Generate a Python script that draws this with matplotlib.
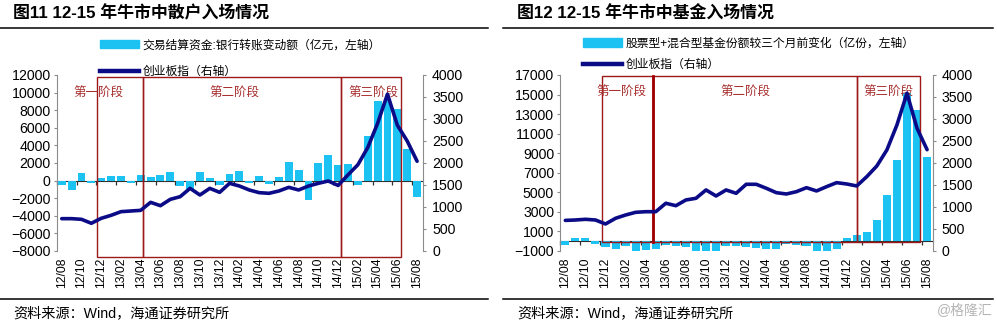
import matplotlib
matplotlib.use("Agg")
import matplotlib.pyplot as plt
from matplotlib.lines import Line2D
from matplotlib.patches import Patch, Rectangle
import numpy as np

plt.rcParams["font.family"] = ["Liberation Sans", "Noto Sans CJK SC"]

# month categories, 2012/08 .. 2015/08
months = [
    "12/08", "12/09", "12/10", "12/11", "12/12",
    "13/01", "13/02", "13/03", "13/04", "13/05", "13/06", "13/07",
    "13/08", "13/09", "13/10", "13/11", "13/12",
    "14/01", "14/02", "14/03", "14/04", "14/05", "14/06", "14/07",
    "14/08", "14/09", "14/10", "14/11", "14/12",
    "15/01", "15/02", "15/03", "15/04", "15/05", "15/06", "15/07", "15/08",
]

# 图11: 交易结算资金 银行转账变动额 (亿元) and 创业板指
retail_flow = [
    -500, -1100, 900, -300, 300, 500, 570, -300, 650, 400, 650, 950,
    -570, -950, 950, 350, -530, 750, 1100, -250, 500, -350, 400, 2150,
    1250, -2250, 2000, 2900, 1770, 1920, -530, 5070, 9100, 9200, 8150,
    3570, -1870,
]
retail_cyb = [
    735, 735, 720, 630, 743, 811, 894, 909, 924, 1106, 1030, 1174,
    1235, 1424, 1273, 1424, 1333, 1538, 1477, 1387, 1326, 1311, 1364, 1447,
    1387, 1477, 1538, 1591, 1490, 1730, 1960, 2350, 2900, 3565, 2860,
    2500, 2040,
]

# 图12: 股票型+混合型基金份额较三个月前变化 (亿份) and 创业板指
fund_change = [
    -400, 300, 250, -300, -580, -780, -510, -1020, -920, -780, -440, -510,
    -615, -1130, -1130, -1130, -510, -510, -615, -680, -850, -850, -300, -440,
    -510, -1200, -1130, -850, 270, 610, 920, 2120, 4710, 8300, 15200,
    13400, 8600,
]
fund_cyb = [
    690, 699, 715, 699, 608, 738, 813, 874, 888, 888, 1080, 1025,
    1155, 1193, 1383, 1246, 1383, 1307, 1512, 1512, 1421, 1321, 1291, 1344,
    1435, 1360, 1458, 1549, 1519, 1474, 1686, 1929, 2294, 2863, 3585,
    2788, 2300,
]

stage_names = ["第一阶段", "第二阶段", "第三阶段"]

BAR_C = "#1CC2F2"
LINE_C = "#0B0B88"
RED = "#9E1A1A"
GRAY = "#8C8C8C"

W, H = 997, 324
fig = plt.figure(figsize=(W / 100, H / 100), dpi=100)
fig.patch.set_facecolor("white")


def fx(px):
    return px / W


def fy(py):
    return 1 - py / H


def panel(rect, bars, cyb, ylim, ystep, xmax, edges, box_y, text_x, text_y,
          bar_label, leg_xy, leg_space, thick_edge=None):
    x = np.arange(len(months))
    ax = fig.add_axes(rect)
    ax.bar(x, bars, width=0.8, color=BAR_C, zorder=2)
    ax.set_xlim(-0.5, xmax)
    ax.set_ylim(*ylim)
    ax.set_yticks(np.arange(ylim[0], ylim[1] + 1, ystep))
    ax.set_xticks(x[::2])
    ax.set_xticklabels(months[::2], rotation=90, fontsize=8.7)
    ax.tick_params(axis="x", length=0, pad=5)
    ax.tick_params(axis="y", direction="out", length=2.5, width=0.8,
                   color=GRAY, labelsize=10.2, pad=2)
    for s in ("top", "bottom", "right"):
        ax.spines[s].set_visible(False)
    ax.spines["left"].set_color(GRAY)

    # category axis drawn through zero
    zero = ax.secondary_xaxis(-ylim[0] / (ylim[1] - ylim[0]))
    zero.set_xticks(np.arange(-0.5, len(months), 2))
    zero.tick_params(length=3, width=0.9, direction="out", color="#303030",
                     labelbottom=False, labeltop=False)
    for s in zero.spines.values():
        s.set_color("#303030")

    # stage boxes
    for i in range(3):
        ax.add_patch(Rectangle((edges[i], box_y[0]), edges[i + 1] - edges[i],
                               box_y[1] - box_y[0], fill=False, edgecolor=RED,
                               lw=1.0, clip_on=False, zorder=3))
        ax.text(text_x[i], text_y, stage_names[i], color="#A83030",
                fontsize=9, ha="center", va="center", zorder=4)
    if thick_edge is not None:
        ax.plot([edges[thick_edge]] * 2, box_y, color="#A00000", lw=2.0,
                zorder=3)

    ax2 = ax.twinx()
    ax2.plot(x, cyb, color=LINE_C, lw=2.6, solid_joinstyle="round",
             solid_capstyle="round", zorder=5)
    ax2.set_ylim(0, 4000)
    ax2.set_yticks(np.arange(0, 4001, 500))
    ax2.tick_params(axis="y", direction="out", length=2.5, width=0.8,
                    color=GRAY, labelsize=10.2, pad=4)
    for s in ("top", "bottom", "left"):
        ax2.spines[s].set_visible(False)
    ax2.spines["right"].set_color(GRAY)

    handles = [Patch(color=BAR_C), Line2D([], [], color=LINE_C, lw=3.2)]
    ax2.legend(handles, [bar_label, "创业板指（右轴）"], loc="upper left",
               bbox_to_anchor=leg_xy, bbox_transform=fig.transFigure,
               frameon=False, fontsize=8.5, handlelength=3.3, handleheight=0.75,
               handletextpad=0.3, labelspacing=leg_space, borderpad=0,
               borderaxespad=0)
    return ax


panel([fx(56.8), fy(251), fx(366.2) - 0, 176 / H], retail_flow, retail_cyb,
      (-8000, 12000), 2000, 36.6, [3.55, 8.27, 28.3, 34.4], (-8650, 11740),
      [3.68, 17.5, 31.6], 9900, "交易结算资金:银行转账变动额（亿元，左轴）",
      (fx(100), fy(39.2)), 1.28)

panel([fx(560.3), fy(250.7), fx(372.4), 175.7 / H], fund_change, fund_cyb,
      (-1000, 17000), 2000, 36.56, [3.62, 8.7, 29.06, 35.3], (-150, 16900),
      [5.54, 17.9, 32.2], 15160, "股票型+混合型基金份额较三个月前变化（亿份，左轴）",
      (fx(583), fy(37.4)), 0.81, thick_edge=1)

# titles, rules and footers
fig.text(fx(13), fy(13), "图11 12-15 年牛市中散户入场情况", fontsize=12.2,
         fontweight="bold", va="center")
fig.text(fx(517), fy(13), "图12 12-15 年牛市中基金入场情况", fontsize=12.2,
         fontweight="bold", va="center")
for x0, x1 in ((0, 488), (503, 993)):
    for yy in (28.3, 299.3):
        fig.add_artist(Line2D([fx(x0), fx(x1)], [fy(yy)] * 2, color="black",
                              lw=1.1, transform=fig.transFigure))
fig.text(fx(13), fy(313), "资料来源：Wind，海通证券研究所", fontsize=10.2,
         va="center")
fig.text(fx(517), fy(313), "资料来源：Wind，海通证券研究所", fontsize=10.2,
         va="center")
fig.text(fx(993), fy(311), "@格隆汇", fontsize=10, color="#B5B5B5",
         ha="right", va="center")

fig.savefig("out.png", dpi=100)
